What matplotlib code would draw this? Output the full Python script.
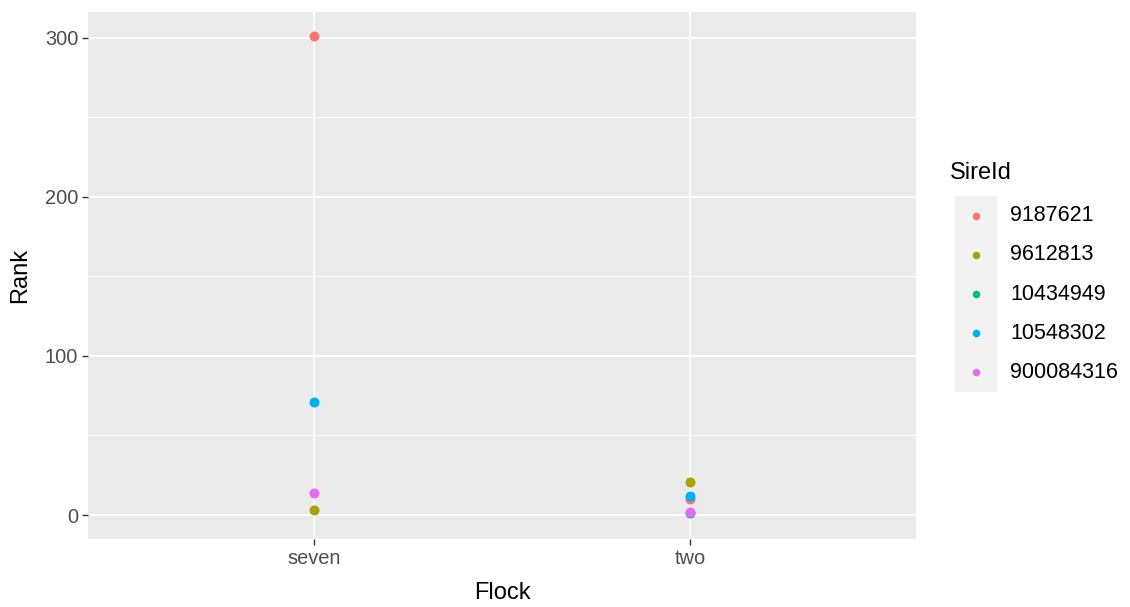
import numpy as np
import matplotlib.pyplot as plt

# data
flocks = ["seven", "two"]
sire_ids = ["9187621", "9612813", "10434949", "10548302", "900084316"]
colors = ["#F8766D", "#A3A500", "#00BF7D", "#00B0F6", "#E76BF3"]

# rank per sire, one value per flock (None = no point)
rank_seven = [301, 3, None, 71, 14]
rank_two = [10, 21, 1, 12, 2]

plt.rcParams['font.family'] = ['Liberation Sans', 'DejaVu Sans']

fig = plt.figure(figsize=(11.3, 6.07), dpi=100)
W, H = 1130, 607
ax = fig.add_axes([88 / W, (H - 539) / H, (916 - 88) / W, (539 - 12) / H])
ax.set_facecolor("#EBEBEB")

ymin, ymax = 0, 301
pad = (ymax - ymin) * 0.05
ax.set_ylim(ymin - pad, ymax + pad)
ax.set_xlim(0.4, 2.6)

ax.set_yticks([0, 100, 200, 300])
ax.set_yticks([50, 150, 250], minor=True)
ax.set_xticks([1, 2])
ax.set_xticklabels(flocks)

ax.grid(True, which="major", color="white", linewidth=1.3)
ax.grid(True, which="minor", axis="y", color="white", linewidth=0.65)
ax.set_axisbelow(True)
for s in ax.spines.values():
    s.set_visible(False)

ax.tick_params(axis="both", which="major", length=4, width=1, color="#333333",
               labelcolor="#4D4D4D", labelsize=14.4, pad=3)
ax.tick_params(axis="both", which="minor", length=0)

for i, c in enumerate(colors):
    for xi, vals in enumerate([rank_seven, rank_two]):
        if vals[i] is not None:
            ax.scatter(xi + 1, vals[i], s=52, color=c, zorder=3, linewidths=0)

ax.set_xlabel("Flock", fontsize=17, labelpad=10)
ax.set_ylabel("Rank", fontsize=17, labelpad=10)

# legend drawn by hand, ggplot style
fig.text(950 / W, 1 - 173 / H, "SireId", fontsize=17, va="center", ha="left")
top, bot = 196, 392
lax = fig.add_axes([955 / W, (H - bot) / H, 42 / W, (bot - top) / H])
lax.set_facecolor("#F2F2F2")
lax.set_xlim(0, 1)
lax.set_ylim(0, 5)
lax.set_xticks([])
lax.set_yticks([])
for s in lax.spines.values():
    s.set_visible(False)
for i, (sid, c) in enumerate(zip(sire_ids, colors)):
    yy = 4.5 - i
    lax.scatter(0.5, yy, s=30, color=c, linewidths=0)
    fig.text(1010 / W, (H - bot) / H + (yy / 5) * (bot - top) / H, sid,
             fontsize=15.5, va="center", ha="left")

fig.savefig("out.png", dpi=100)
